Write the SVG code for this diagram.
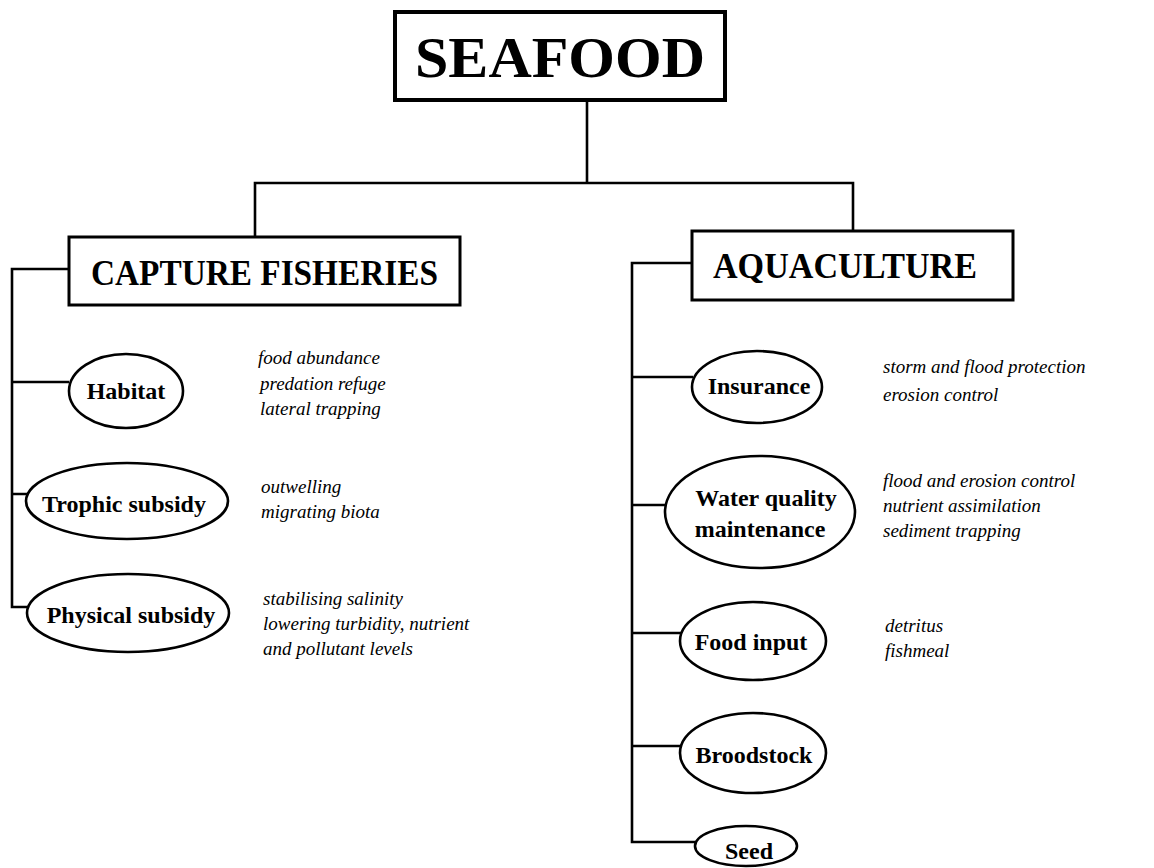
<svg xmlns="http://www.w3.org/2000/svg" width="1154" height="868" viewBox="0 0 1154 868">
<style>
.bx{fill:#fff;stroke:#000;stroke-width:3}
.el{fill:#fff;stroke:#000;stroke-width:2.6}
.cn{fill:none;stroke:#000;stroke-width:2.6}
.h{font-family:"Liberation Serif","Times New Roman",serif;font-weight:bold;fill:#000;text-anchor:middle}
.lb{font-family:"Liberation Serif","Times New Roman",serif;font-weight:bold;font-size:24px;fill:#000;text-anchor:middle}
.it{font-family:"Liberation Serif","Times New Roman",serif;font-style:italic;font-size:19px;fill:#000}
</style>
<rect width="1154" height="868" fill="#fff"/>
<g id="connectors">
<path class="cn" d="M587 102V183M255 237V183H853V230"/>
<path class="cn" d="M69 269H12V607H29M12 382H69M12 494H28"/>
<path class="cn" d="M692 263H632V842H697M632 377H693M632 505H666M632 633H681M632 746H680"/>
</g>
<g id="seafood">
<rect x="395" y="12" width="330" height="88" fill="#fff" stroke="#000" stroke-width="4"/>
<text class="h" x="560" y="77" font-size="58" textLength="290" lengthAdjust="spacingAndGlyphs">SEAFOOD</text>
</g>
<g id="capture">
<rect class="bx" x="69" y="237" width="391" height="68"/>
<text class="h" x="264.5" y="285" font-size="36" textLength="347" lengthAdjust="spacingAndGlyphs">CAPTURE FISHERIES</text>
</g>
<g id="aquaculture">
<rect class="bx" x="692" y="231" width="321" height="69"/>
<text class="h" x="845" y="278" font-size="35" textLength="264" lengthAdjust="spacingAndGlyphs">AQUACULTURE</text>
</g>
<g id="habitat">
<ellipse class="el" cx="126" cy="391" rx="57" ry="37"/>
<text class="lb" x="126" y="399">Habitat</text>
</g>
<g id="trophic">
<ellipse class="el" cx="127" cy="501" rx="101" ry="38"/>
<text class="lb" x="124" y="512">Trophic subsidy</text>
</g>
<g id="physical">
<ellipse class="el" cx="128" cy="613" rx="101" ry="39"/>
<text class="lb" x="131" y="623">Physical subsidy</text>
</g>
<g id="insurance">
<ellipse class="el" cx="757" cy="387" rx="65" ry="36"/>
<text class="lb" x="759" y="394">Insurance</text>
</g>
<g id="waterquality">
<ellipse class="el" cx="760" cy="512" rx="95" ry="56"/>
<text class="lb" x="766" y="506">Water quality</text>
<text class="lb" x="760" y="537">maintenance</text>
</g>
<g id="foodinput">
<ellipse class="el" cx="753" cy="641" rx="73" ry="39"/>
<text class="lb" x="751" y="650">Food input</text>
</g>
<g id="broodstock">
<ellipse class="el" cx="753" cy="753" rx="73" ry="40"/>
<text class="lb" x="754" y="763">Broodstock</text>
</g>
<g id="seed">
<ellipse class="el" cx="746" cy="846" rx="51" ry="20"/>
<text class="lb" x="749" y="859">Seed</text>
</g>
<g id="notes">
<text class="it" x="258" y="364">food abundance</text>
<text class="it" x="260" y="390">predation refuge</text>
<text class="it" x="260" y="415">lateral trapping</text>
<text class="it" x="261" y="493">outwelling</text>
<text class="it" x="261" y="518">migrating biota</text>
<text class="it" x="263" y="605">stabilising salinity</text>
<text class="it" x="263" y="630">lowering turbidity, nutrient</text>
<text class="it" x="263" y="655">and pollutant levels</text>
<text class="it" x="883" y="373">storm and flood protection</text>
<text class="it" x="883" y="401">erosion control</text>
<text class="it" x="883" y="487">flood and erosion control</text>
<text class="it" x="883" y="512">nutrient assimilation</text>
<text class="it" x="883" y="537">sediment trapping</text>
<text class="it" x="885" y="632">detritus</text>
<text class="it" x="885" y="657">fishmeal</text>
</g>
</svg>
